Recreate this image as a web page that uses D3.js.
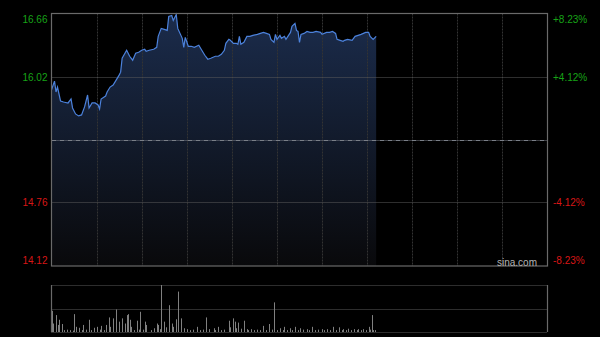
<!DOCTYPE html>
<html>
<head>
<meta charset="utf-8">
<script src="https://cdn.jsdelivr.net/npm/d3@7"></script>
<style>
  html, body { margin: 0; padding: 0; background: #000; }
  svg { display: block; }
</style>
</head>
<body>
<div id="chart"></div>
<script>
// minutes since open (HK session, 330 min) and price at that minute
var mins = [0, 2, 3, 4, 6, 8, 11, 13, 14, 16, 18, 20, 22, 24, 25, 27, 29, 31, 32, 33,
  36, 37, 39, 41, 43, 45, 46, 47, 50, 52, 54, 56, 58, 60, 62, 63, 65, 68, 70, 71,
  73, 75, 77, 78, 80, 81, 83, 84, 87, 88, 89, 91, 93, 95, 98, 100, 102, 104, 106, 109,
  111, 113, 115, 116, 118, 119, 121, 123, 124, 125, 126, 128, 130, 132, 134, 137, 139, 141, 143, 145,
  146, 148, 149, 150, 152, 153, 155, 156, 159, 160, 162, 163, 164, 165, 166, 168, 170, 172, 174, 176,
  179, 180, 183, 185, 187, 189, 190, 192, 194, 195, 197, 200, 202, 204, 206, 209, 211, 212, 214, 216];
var prices = [15.89, 15.98, 15.87, 15.92, 15.78, 15.77, 15.76, 15.80, 15.71, 15.65, 15.63, 15.64, 15.72, 15.84, 15.71, 15.76, 15.76, 15.74, 15.70, 15.80,
  15.83, 15.87, 15.92, 15.94, 15.99, 16.04, 16.07, 16.21, 16.29, 16.23, 16.19, 16.26, 16.27, 16.29, 16.30, 16.28, 16.29, 16.30, 16.32, 16.43,
  16.51, 16.50, 16.49, 16.63, 16.64, 16.59, 16.65, 16.51, 16.41, 16.32, 16.42, 16.33, 16.33, 16.32, 16.34, 16.29, 16.24, 16.20, 16.21, 16.23,
  16.23, 16.25, 16.29, 16.36, 16.40, 16.39, 16.36, 16.36, 16.35, 16.43, 16.35, 16.37, 16.43, 16.43, 16.44, 16.45, 16.46, 16.47, 16.46, 16.45,
  16.40, 16.37, 16.45, 16.40, 16.44, 16.41, 16.43, 16.40, 16.47, 16.53, 16.56, 16.49, 16.48, 16.37, 16.45, 16.46, 16.48, 16.47, 16.47, 16.48,
  16.47, 16.45, 16.47, 16.47, 16.48, 16.46, 16.40, 16.39, 16.38, 16.39, 16.40, 16.39, 16.43, 16.44, 16.45, 16.47, 16.47, 16.43, 16.40, 16.43];

// volume bars (relative units, 100 = panel top)
var volMins = [0, 1, 3, 4, 5, 7, 8, 10, 12, 14, 15, 16, 18, 20, 21, 23, 25, 26, 28, 30,
  32, 33, 35, 36, 38, 39, 41, 43, 45, 47, 49, 50, 51, 52, 53, 55, 57, 58, 59, 61,
  62, 63, 66, 68, 70, 71, 72, 73, 75, 76, 78, 80, 81, 83, 84, 86, 88, 90, 92, 94,
  97, 99, 101, 103, 105, 108, 109, 111, 113, 115, 118, 119, 121, 122, 123, 124, 126, 128, 130, 131,
  133, 135, 137, 139, 141, 143, 145, 147, 148, 150, 152, 154, 155, 157, 159, 160, 162, 164, 165, 167,
  170, 171, 173, 175, 177, 180, 181, 183, 185, 187, 189, 191, 193, 194, 196, 197, 199, 201, 203, 204,
  206, 207, 209, 211, 212, 213, 214, 215];
var vols = [45, 18, 36, 15, 26, 17, 4, 5, 4, 3, 38, 11, 9, 4, 15, 5, 26, 4, 9, 11,
  5, 13, 4, 15, 31, 11, 29, 48, 22, 29, 18, 36, 38, 26, 11, 4, 24, 5, 43, 5,
  22, 15, 4, 8, 18, 15, 6, 100, 22, 10, 57, 18, 11, 27, 86, 29, 8, 6, 4, 5,
  11, 4, 5, 31, 6, 8, 4, 11, 4, 5, 24, 10, 29, 22, 8, 20, 7, 24, 6, 4,
  6, 4, 5, 4, 13, 4, 17, 5, 63, 4, 8, 4, 11, 4, 8, 4, 11, 4, 8, 5,
  6, 4, 11, 4, 5, 6, 4, 6, 4, 11, 4, 10, 4, 6, 4, 7, 4, 6, 4, 6,
  4, 6, 4, 11, 5, 36, 4, 4];

var leftTicks = [16.66, 16.02, 15.39, 14.76, 14.12];
var rightTicks = ["+8.23%", "+4.12%", "", "-4.12%", "-8.23%"];
var prevClose = 15.39;

var W = 600, H = 337;
var pLeft = 51.5, pRight = 547.5;
var pTop = 13.5, pBottom = 266;
var vTop = 285, vBottom = 332;

var svg = d3.select("#chart").append("svg")
  .attr("width", W).attr("height", H)
  .style("background", "#000");

var x = d3.scaleLinear().domain([0, 330]).range([pLeft, pRight]);
var y = d3.scaleLinear().domain([14.12, 16.66]).range([pBottom, pTop]);
var yv = d3.scaleLinear().domain([0, 100]).range([vBottom, vTop]);

var defs = svg.append("defs");
var grad = defs.append("linearGradient").attr("id", "fillGrad")
  .attr("gradientUnits", "userSpaceOnUse")
  .attr("x1", 0).attr("y1", pTop).attr("x2", 0).attr("y2", pBottom);
grad.append("stop").attr("offset", "0%").attr("stop-color", "#1b2c4c");
grad.append("stop").attr("offset", "100%").attr("stop-color", "#09090b");

var data = mins.map(function(m, i) { return { m: m, p: prices[i] }; });

// area under price
svg.append("path")
  .datum(data)
  .attr("fill", "url(#fillGrad)")
  .attr("d", d3.area()
    .x(function(d) { return x(d.m); })
    .y0(pBottom)
    .y1(function(d) { return y(d.p); }));

// vertical grid (every 30 min)
var vgrid = d3.range(30, 330, 30);
svg.selectAll(".vg").data(vgrid).enter().append("line")
  .attr("x1", function(d) { return Math.round(x(d)) + 0.5; })
  .attr("x2", function(d) { return Math.round(x(d)) + 0.5; })
  .attr("y1", pTop).attr("y2", pBottom)
  .attr("stroke", "#333").attr("stroke-dasharray", "2,1");

// horizontal grid
svg.selectAll(".hg").data([16.02, 14.76]).enter().append("line")
  .attr("x1", pLeft).attr("x2", pRight)
  .attr("y1", function(d) { return Math.round(y(d)) + 0.5; })
  .attr("y2", function(d) { return Math.round(y(d)) + 0.5; })
  .attr("stroke", "#5c5c5c").attr("stroke-dasharray", "1,1");

svg.append("line")
  .attr("x1", pLeft).attr("x2", pRight)
  .attr("y1", Math.round(y(prevClose)) + 0.5).attr("y2", Math.round(y(prevClose)) + 0.5)
  .attr("stroke", "#7a7f88").attr("stroke-dasharray", "5,1,1,1");

// price line
svg.append("path")
  .datum(data)
  .attr("fill", "none")
  .attr("stroke", "#4c82dc")
  .attr("stroke-width", 1.2)
  .attr("d", d3.line()
    .x(function(d) { return x(d.m); })
    .y(function(d) { return y(d.p); }));

// frame
svg.append("rect")
  .attr("x", pLeft).attr("y", pTop)
  .attr("width", pRight - pLeft).attr("height", pBottom - pTop)
  .attr("fill", "none").attr("stroke", "#6a6a6a").attr("stroke-width", 1.2);

// top/bottom labels sit inside the frame
var labelY = function(i) {
  var v = leftTicks[i];
  if (i === 0) return y(v) + 6;
  if (i === leftTicks.length - 1) return y(v) - 6;
  return y(v);
};
svg.selectAll(".ll").data(leftTicks).enter().append("text")
  .filter(function(d) { return d !== prevClose; })
  .attr("x", 47.5)
  .attr("y", function(d) { return labelY(leftTicks.indexOf(d)); })
  .attr("dy", "0.35em")
  .attr("text-anchor", "end")
  .attr("font-family", "Liberation Sans, Arial, sans-serif")
  .attr("font-size", 10)
  .attr("fill", function(d) { return d > prevClose ? "#17a317" : "#d81616"; })
  .text(function(d) { return d.toFixed(2); });

svg.selectAll(".rl").data(rightTicks).enter().append("text")
  .filter(function(d) { return d !== ""; })
  .attr("x", 553)
  .attr("y", function(d) { return labelY(rightTicks.indexOf(d)); })
  .attr("dy", "0.35em")
  .attr("font-family", "Liberation Sans, Arial, sans-serif")
  .attr("font-size", 10)
  .attr("fill", function(d) { return d.charAt(0) === "+" ? "#17a317" : "#d81616"; })
  .text(function(d) { return d; });

svg.append("text")
  .attr("x", 537).attr("y", 262).attr("dy", "0.35em")
  .attr("text-anchor", "end")
  .attr("font-family", "Liberation Sans, Arial, sans-serif")
  .attr("font-size", 10)
  .attr("fill", "#b4b4b4")
  .text("sina.com");

// volume panel
svg.selectAll(".vl").data([vTop, (vTop + vBottom) / 2, vBottom]).enter().append("line")
  .attr("x1", pLeft).attr("x2", pRight)
  .attr("y1", function(d) { return Math.round(d) + 0.5; })
  .attr("y2", function(d) { return Math.round(d) + 0.5; })
  .attr("stroke", "#5a5a5a").attr("stroke-dasharray", "1,1");

svg.selectAll(".vb").data(vols).enter().append("line")
  .attr("x1", function(d, i) { return Math.round(x(volMins[i])) + 0.5; })
  .attr("x2", function(d, i) { return Math.round(x(volMins[i])) + 0.5; })
  .attr("y1", vBottom)
  .attr("y2", function(d) { return yv(d); })
  .attr("stroke", "#808080");

svg.selectAll(".vs").data([pLeft, pRight]).enter().append("line")
  .attr("x1", function(d) { return d; }).attr("x2", function(d) { return d; })
  .attr("y1", vTop).attr("y2", vBottom)
  .attr("stroke", "#6a6a6a").attr("stroke-width", 1.2);
</script>
</body>
</html>
